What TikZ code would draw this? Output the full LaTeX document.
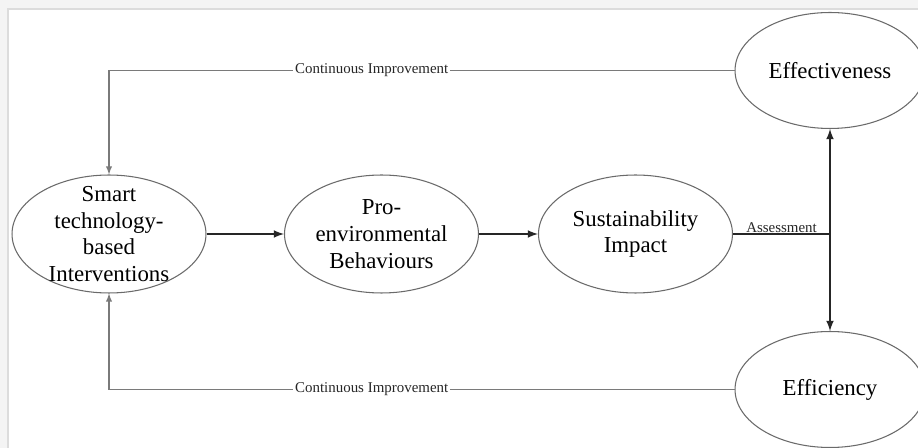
\documentclass[tikz,border=0pt]{standalone}
\usepackage{fontspec}
\setmainfont{Liberation Serif}
\usepackage{tikz}
\usetikzlibrary{shapes.geometric,arrows}
\definecolor{rim}{HTML}{6A6A6A}
\definecolor{wire}{HTML}{7A7A7A}
\definecolor{backgr}{HTML}{F4F4F4}
\definecolor{panelrim}{HTML}{DCDCDC}
\tikzstyle{blob} = [ellipse, draw=rim, line width=0.6pt, inner sep=-3cm, minimum width=3.88cm, minimum height=2.36cm, align=center, font=\fontsize{13}{15.3}\selectfont]
\tikzstyle{sideblob} = [blob, minimum width=3.8cm, minimum height=2.32cm]
\tikzstyle{flow} = [line width=1pt, black!85, -latex]
\tikzstyle{loopback} = [line width=0.6pt, wire, -latex]
\tikzstyle{tag} = [fill=white, inner sep=1pt, text=black!85, font=\fontsize{8.5}{10}\selectfont]

\begin{document}
\begin{tikzpicture}[x=0.02cm, y=-0.02cm]

\useasboundingbox (0,0) rectangle (918,448);
\fill[backgr] (0,0) rectangle (918,448);
\filldraw[fill=white, draw=panelrim, line width=0.6pt] (8,9) rectangle (920,450);

\node[blob] (smart) at (109,234) {Smart\\technology-\\based\\Interventions};
\node[blob] (pro) at (381.5,234) {Pro-\\environmental\\Behaviours};
\node[blob] (sust) at (635.5,234) {Sustainability\\Impact};
\node[sideblob] (effect) at (830,70.5) {Effectiveness};
\node[sideblob] (effic) at (830,389.5) {Efficiency};

\foreach \a/\b in {smart/pro, pro/sust} {
\draw[flow] (\a) -- (\b);
}

\coordinate (join) at (effect.south |- sust.east);
\draw[line width=1pt, black!85] (sust.east) -- node[above, inner sep=0.5pt, font=\fontsize{8.5}{10}\selectfont] {Assessment} (join);
\draw[flow, latex-latex] (effect.south) -- (effic.north);

\draw[loopback] (effect.west)
-- node[tag, pos=0.58] {Continuous Improvement} (smart.north |- effect.west)
-- (smart.north)
;
\draw[loopback] (effic.west)
-- node[tag, pos=0.58] {Continuous Improvement} (smart.south |- effic.west)
-- (smart.south)
;
\end{tikzpicture}
\end{document}
